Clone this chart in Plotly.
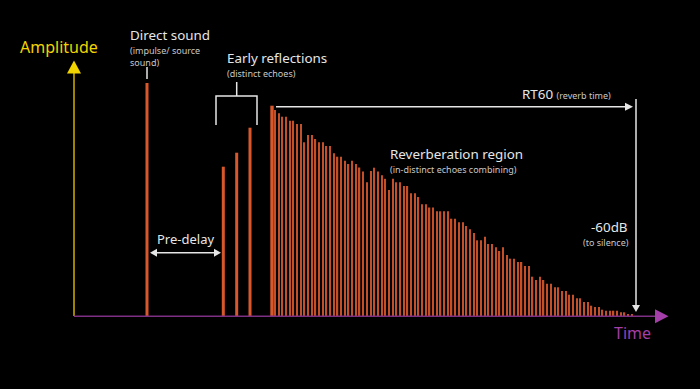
import plotly.graph_objects as go

# ---------------- data (time units / amplitude units) ----------------
direct_time = [73.0]
direct_amp = [233.0]

early_times = [149.3, 162.7, 176.0]
early_amps = [149.3, 163.3, 188.3]

reverb_lead_time = [198.0]
reverb_lead_amp = [210.3]

reverb_times = [
    201.0, 204.7, 208.4, 212.0, 215.7, 219.4, 223.1, 226.8, 230.4, 234.1,
    237.8, 241.5, 245.2, 248.8, 252.5, 256.2, 259.9, 263.6, 267.2, 270.9,
    274.6, 278.3, 282.0, 285.6, 289.3, 293.0, 296.7, 300.4, 304.0, 307.7,
    311.4, 315.1, 318.8, 322.4, 326.1, 329.8, 333.5, 337.2, 340.8, 344.5,
    348.2, 351.9, 355.6, 359.2, 362.9, 366.6, 370.3, 374.0, 377.6, 381.3,
    385.0, 388.7, 392.4, 396.0, 399.7, 403.4, 407.1, 410.8, 414.4, 418.1,
    421.8, 425.5, 429.2, 432.8, 436.5, 440.2, 443.9, 447.6, 451.2, 454.9,
    458.6, 462.3, 466.0, 469.6, 473.3, 477.0, 480.7, 484.4, 488.0, 491.7,
    495.4, 499.1, 502.8, 506.4, 510.1, 513.8, 517.5, 521.2, 524.8, 528.5,
    532.2, 535.9, 539.6, 543.2, 546.9, 550.6, 554.3, 558.0,
]
reverb_amps = [
    206.0, 202.7, 199.3, 199.3, 195.3, 195.3, 192.0, 192.0, 173.7, 181.0,
    181.0, 177.0, 173.7, 173.7, 170.0, 170.0, 162.7, 159.3, 159.3, 155.3,
    152.0, 155.3, 152.0, 148.5, 144.5, 133.7, 145.0, 148.3, 144.5, 140.8,
    137.2, 126.0, 137.2, 133.7, 133.7, 130.0, 130.0, 122.7, 122.7, 119.0,
    111.8, 111.8, 108.5, 108.5, 104.7, 104.7, 104.8, 104.8, 97.3, 97.3,
    93.7, 93.7, 90.0, 86.7, 83.0, 75.7, 75.7, 79.3, 72.0, 72.0,
    68.7, 65.0, 68.7, 61.0, 57.3, 57.3, 54.0, 54.0, 50.0, 50.0,
    39.3, 36.0, 39.3, 36.0, 32.3, 32.3, 28.7, 28.7, 25.0, 25.0,
    21.3, 21.3, 17.7, 17.7, 14.0, 14.0, 10.3, 9.0, 9.0, 6.3,
    5.3, 5.3, 5.3, 5.3, 3.7, 3.7, 2.0, 1.3,
]

# ---------------- helpers: picture pixel -> data coords for decorations ----------------
X0, Y0 = 74.0, 316.0


def X(px):
    return px - X0


def Y(py):
    return Y0 - py


def path(points, close=True):
    s = "M " + " L ".join(f"{X(a):.2f},{Y(b):.2f}" for a, b in points)
    return s + (" Z" if close else "")


ORANGE = "#d9582b"
ORANGE_THIN = "#c4502a"
WHITE = "#e6e6e6"
GREY = "#c8c8c8"
FONT = "Noto Sans"
BIG = 13.4
SMALL = 9.0

fig = go.Figure()

fig.add_trace(go.Bar(x=direct_time, y=direct_amp, width=3.0,
                     marker=dict(color=ORANGE, line=dict(width=0))))
fig.add_trace(go.Bar(x=early_times, y=early_amps, width=3.0,
                     marker=dict(color=ORANGE, line=dict(width=0))))
fig.add_trace(go.Bar(x=reverb_lead_time, y=reverb_lead_amp, width=3.4,
                     marker=dict(color=ORANGE, line=dict(width=0))))
fig.add_trace(go.Bar(x=reverb_times, y=reverb_amps, width=1.3,
                     marker=dict(color=ORANGE_THIN, line=dict(width=0))))

shapes = []


def line(p1, p2, color=WHITE, w=1.5):
    shapes.append(dict(type="line", xref="x", yref="y",
                       x0=X(p1[0]), y0=Y(p1[1]), x1=X(p2[0]), y1=Y(p2[1]),
                       line=dict(color=color, width=w), layer="above"))


def tri(points, color=WHITE):
    shapes.append(dict(type="path", xref="x", yref="y", path=path(points),
                       fillcolor=color, line=dict(width=0), layer="above"))


# axes
line((74, 316), (74, 72), color="#9c8400", w=2)
tri([(67, 73.5), (81, 73.5), (74, 60.5)], color="#f2d400")
line((74, 316.3), (656, 316.3), color="#7e3184", w=1.6)
tri([(655, 309.3), (655, 323.3), (668.5, 316.3)], color="#a43ea8")

# direct sound pointer
line((147, 67), (147, 79))
# early reflection bracket
shapes.append(dict(type="path", xref="x", yref="y",
                   path=path([(216, 125), (216, 96), (257, 96), (257, 125)], close=False),
                   line=dict(color=WHITE, width=1.5), layer="above"))
line((236.7, 82), (236.7, 96))
# RT60 arrows
line((276, 106.7), (627, 106.7))
tri([(625, 102.7), (625, 110.7), (633, 106.7)])
line((636, 99), (636, 306))
tri([(632, 305), (640, 305), (636, 312)])
# pre-delay double arrow
line((155, 252.7), (216, 252.7))
tri([(150, 252.7), (157, 248.7), (157, 256.7)])
tri([(221, 252.7), (214, 248.7), (214, 256.7)])

annotations = []


def text(t, px, py, size, color=WHITE, anchor="left"):
    annotations.append(dict(text=t, x=X(px), y=Y(py), xref="x", yref="y",
                            xanchor=anchor, yanchor="middle", showarrow=False,
                            align=anchor, borderpad=0,
                            font=dict(family=FONT, size=size, color=color)))


text("Amplitude", 19, 47, 16, color="#f2d400")
text("Time", 613, 332.5, 16, color="#a43ea8")

text("Direct sound", 129, 34.5, BIG)
text("(impulse/ source", 129, 50, SMALL, color=GREY)
text("sound)", 129, 62, SMALL, color=GREY)

text("Early reflections", 226, 58, BIG)
text("(distinct echoes)", 226, 73.5, SMALL, color=GREY)

text(f"RT60 <span style='font-size:{SMALL}px;color:{GREY}'>(reverb time)</span>",
     521, 94, BIG)

text("Reverberation region", 389, 154, BIG)
text("(in-distinct echoes combining)", 389, 169, SMALL, color=GREY)

text("-60dB", 629, 226.5, BIG, anchor="right")
text("(to silence)", 630, 242, SMALL, color=GREY, anchor="right")

text("Pre-delay", 156, 238.5, 13)

fig.update_layout(
    width=700, height=389, autosize=False,
    margin=dict(l=0, r=0, t=0, b=0, pad=0),
    paper_bgcolor="black", plot_bgcolor="black",
    showlegend=False, barmode="overlay",
    xaxis=dict(range=[X(0), X(700)], visible=False, fixedrange=True),
    yaxis=dict(range=[Y(389), Y(0)], visible=False, fixedrange=True),
    shapes=shapes, annotations=annotations,
)

fig.write_html("out.html", config={"displayModeBar": False},
               post_script="document.body.style.margin='0px';document.body.style.background='black';")
